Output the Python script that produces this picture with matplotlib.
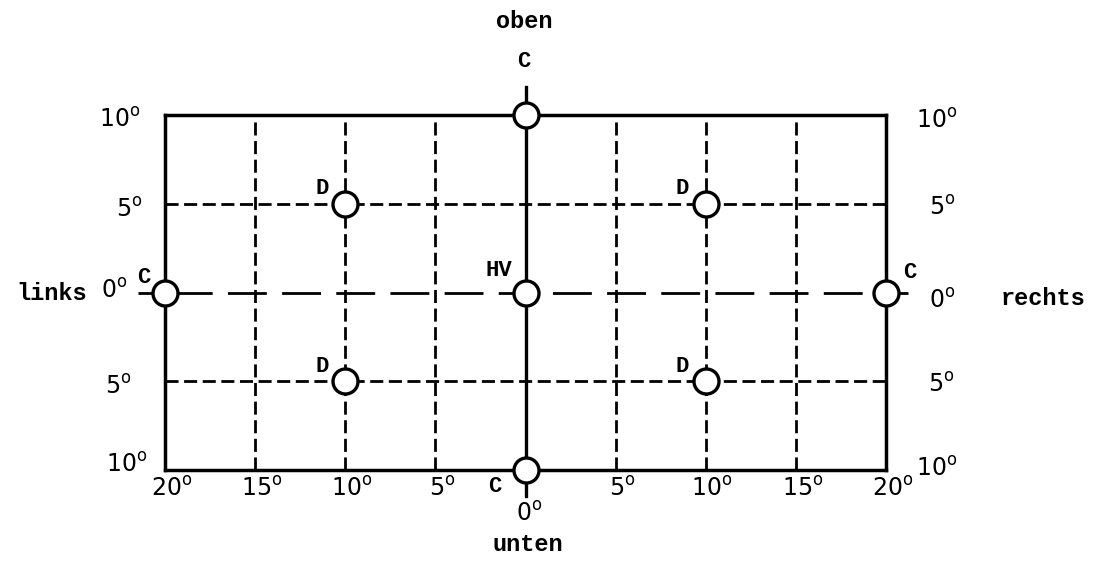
import matplotlib
matplotlib.use("Agg")
import matplotlib.pyplot as plt

# ---- data ----
x_grid = [-15, -10, -5, 5, 10, 15]
y_grid = [-5, 5]
c_x = [0, 0, -20, 20]
c_y = [10, -10, 0, 0]
d_x = [-10, 10, -10, 10]
d_y = [5, 5, -5, -5]
hv_x = [0]
hv_y = [0]
x_tick_vals = [-20, -15, -10, -5, 0, 5, 10, 15, 20]
x_tick_text = ["20", "15", "10", "5", "0", "5", "10", "15", "20"]
y_tick_vals = [10, 5, 0, -5, -10]
y_tick_text = ["10", "5", "0", "5", "10"]

DEG = r"$^{\mathsf{o}}$"

fig = plt.figure(figsize=(10.93, 5.63), dpi=100)
ax = fig.add_axes([0.151, 0.1652, 0.6597, 0.6305])
ax.set_xlim(-20, 20)
ax.set_ylim(-10, 10)
ax.set_xticks([])
ax.set_yticks([])
for s in ax.spines.values():
    s.set_linewidth(2.5)
    s.set_color("black")

# dashed grid
for gx in x_grid:
    ax.plot([gx, gx], [-10, 10], color="black", lw=2.0, dashes=(4.7, 2.0))
for gy in y_grid:
    ax.plot([-20, 20], [gy, gy], color="black", lw=2.0, dashes=(4.7, 2.0))

# central axes
ax.plot([-21.5, 21.2], [0, 0], color="black", lw=2.0,
        linestyle=(6.8, (14, 5.5)), clip_on=False)
ax.plot([0, 0], [-11.45, 11.6], color="black", lw=2.4, clip_on=False)

# circles
mk = dict(marker="o", ms=18, mfc="white", mec="black", mew=2.4,
          linestyle="none", clip_on=False, zorder=5)
ax.plot(c_x, c_y, **mk)
ax.plot(d_x, d_y, **mk)
ax.plot(hv_x, hv_y, **mk)

lab = dict(fontsize=16, fontweight="bold", family="Liberation Mono",
           ha="center", va="center")
# C labels
ax.text(-0.1, 13.0, "C", **lab, clip_on=False)
ax.text(-1.7, -10.95, "C", **lab, clip_on=False)
ax.text(-21.2, 0.85, "C", **lab, clip_on=False)
ax.text(21.3, 1.1, "C", **lab, clip_on=False)
for x, y in zip(d_x, d_y):
    ax.text(x - 1.3, y + 0.85, "D", **lab)
ax.text(-1.5, 1.25, "HV", **lab)

word = dict(fontsize=17, fontweight="bold", family="Liberation Mono",
            ha="center", va="center")
ax.text(-0.1, 15.25, "oben", **word, clip_on=False)
ax.text(0.15, -14.2, "unten", **word, clip_on=False)
ax.text(-26.3, -0.05, "links", **word, clip_on=False)
ax.text(28.7, -0.35, "rechts", **word, clip_on=False)

num = dict(fontsize=17, family="DejaVu Sans", ha="center", va="center")
# x tick labels
for v, t in zip(x_tick_vals, x_tick_text):
    if v == 0:
        ax.text(0.2, -12.45, t + DEG, **num, clip_on=False)
    else:
        ax.text(v + 0.35, -11.05, t + DEG, **num, clip_on=False)

# y tick labels left & right
left_pos = {10: (-22.5, 9.75), 5: (-22.0, 4.65), 0: (-22.8, 0.1),
            -5: (-22.6, -5.3), -10: (-22.1, -9.7)}
right_pos = {10: (22.8, 9.7), 5: (23.1, 4.8), 0: (23.1, -0.45),
             -5: (23.05, -5.2), -10: (22.8, -9.95)}
for v, t in zip(y_tick_vals, y_tick_text):
    xl, yl = left_pos[v]
    xr, yr = right_pos[v]
    ax.text(xl, yl, t + DEG, **num, clip_on=False)
    ax.text(xr, yr, t + DEG, **num, clip_on=False)

fig.savefig("out.png", dpi=100, facecolor="white")
